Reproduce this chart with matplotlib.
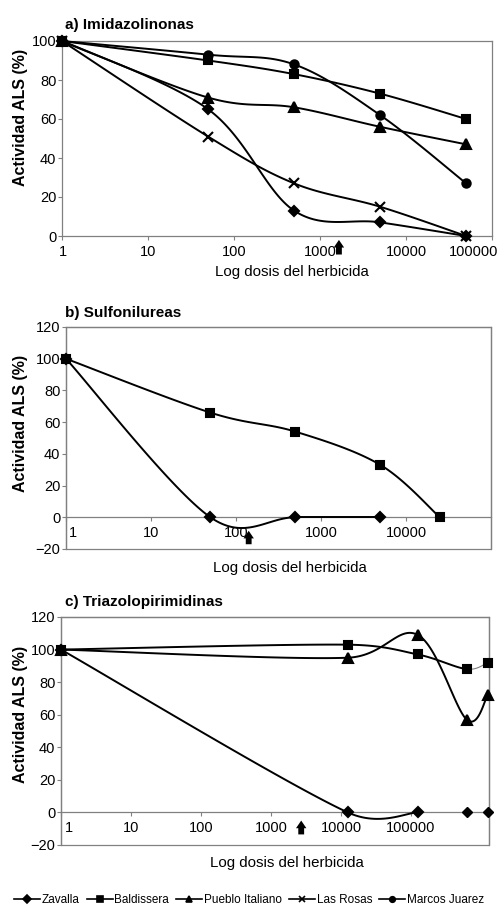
import matplotlib
matplotlib.use('Agg')
import matplotlib.pyplot as plt
import numpy as np
from matplotlib.lines import Line2D
from matplotlib.patches import Rectangle
from matplotlib.ticker import FixedLocator, NullFormatter, NullLocator

plt.rcParams['font.family'] = ['Liberation Sans', 'DejaVu Sans']

# a) Imidazolinonas
dosis_a = [1, 50, 500, 5000, 50000]
zavalla_a = [100, 65, 13, 7, 0]
baldissera_a = [100, 90, 83, 73, 60]
pueblo_a = [100, 71, 66, 56, 47]
rosas_a = [100, 51, 27, 15, 0]
marcos_a = [100, 93, 88, 62, 27]

# b) Sulfonilureas
dosis_b = [1, 50, 500, 5000, 25000]
zavalla_b = [100, 0, 0, 0]
baldissera_b = [100, 66, 54, 33, 0]

# c) Triazolopirimidinas
dosis_c = [1, 12500, 125000, 625000, 1250000]
zavalla_c = [100, 0, 0, 0, 0]
baldissera_c = [100, 103, 97, 88, 92]
pueblo_c = [100, 95, 109, 57, 72]

# dosis marcadas con flecha
flecha_a = 1660
flecha_b = 141
flecha_c = 2700

ticks_a = [1, 10, 100, 1000, 10000, 100000]
ticks_b = [1, 10, 100, 1000, 10000]
ticks_c = [1, 10, 100, 1000, 10000, 100000]

series = ['Zavalla', 'Baldissera', 'Pueblo Italiano', 'Las Rosas', 'Marcos Juarez']
marcas = {'Zavalla': ('D', 5.5), 'Baldissera': ('s', 5.5), 'Pueblo Italiano': ('^', 7),
          'Las Rosas': ('x', 6.5), 'Marcos Juarez': ('o', 6)}

GRIS = '#808080'
W, H = 498, 905
fig = plt.figure(figsize=(W / 100, H / 100), dpi=100)


def caja(l, t, r, b):
    return [l / W, 1 - b / H, (r - l) / W, (b - t) / H]


def suave(ax, xs, ys, n=50):
    # curva suavizada tipo Excel (Bezier), calculada en pixeles
    P = ax.transData.transform(np.column_stack([xs, ys]))
    m = len(P)
    segs = []
    for i in range(m - 1):
        p0, p1, p2, p3 = P[max(i - 1, 0)], P[i], P[i + 1], P[min(i + 2, m - 1)]
        d02 = np.hypot(*(p2 - p0))
        d12 = np.hypot(*(p2 - p1))
        d13 = np.hypot(*(p3 - p1))
        b1 = d02 / 6 < d12 / 2
        b2 = d13 / 6 < d12 / 2
        if b1 and b2:
            f = g = 1 / 6
        elif not b1 and not b2:
            f = g = d12 / (d02 + d13)
        else:
            f = 1 / 6 if b1 else d12 / (2 * d02)
            g = 1 / 6 if b2 else d12 / (2 * d13)
        c1 = p1 + f * (p2 - p0)
        c2 = p2 - g * (p3 - p1)
        t = np.linspace(0, 1, n)[:, None]
        bz = (1 - t) ** 3 * p1 + 3 * (1 - t) ** 2 * t * c1 + 3 * (1 - t) * t ** 2 * c2 + t ** 3 * p2
        segs.append(ax.transData.inverted().transform(bz))
    return segs


def serie(ax, xs, ys, nombre, finos=()):
    mk, ms = marcas[nombre]
    for k, seg in enumerate(suave(ax, xs, ys)):
        if k in finos:
            ax.plot(seg[:, 0], seg[:, 1], color=GRIS, lw=0.8, clip_on=False, zorder=3)
        else:
            ax.plot(seg[:, 0], seg[:, 1], color='black', lw=1.4, clip_on=False, zorder=3)
    ax.plot(xs, ys, ls='none', marker=mk, ms=ms, color='black', mew=1.5,
            clip_on=False, zorder=4)


def marcadores(ax, xs, ys, nombre):
    mk, ms = marcas[nombre]
    ax.plot(xs, ys, ls='none', marker=mk, ms=ms, color='black', clip_on=False, zorder=4)


def ejes(pos, xmax, ymin, ymax, xticks, cruza_cero, desplaz):
    ax = fig.add_axes(caja(*pos))
    ax.set_xscale('log')
    ax.set_xlim(1, xmax)
    ax.set_ylim(ymin, ymax)
    ax.xaxis.set_major_locator(FixedLocator(xticks))
    ax.xaxis.set_major_formatter(NullFormatter())
    ax.xaxis.set_minor_locator(NullLocator())
    ax.xaxis.set_minor_formatter(NullFormatter())
    ax.set_yticks(np.arange(ymin, ymax + 1, 20))
    ax.tick_params(axis='y', direction='out', length=3, width=0.8, color=GRIS,
                   labelsize=10.5, pad=1)
    ax.tick_params(axis='x', direction='out', length=3, width=0.8, color=GRIS)
    for s in ax.spines.values():
        s.set_color(GRIS)
        s.set_linewidth(0.9)
    if cruza_cero:
        ax.spines['bottom'].set_position(('data', 0))
        ax.add_patch(Rectangle((0, 0), 1, 1, transform=ax.transAxes, fill=False,
                               edgecolor=GRIS, lw=0.9, clip_on=False, zorder=1))
        ref = ax.transData
    else:
        ref = ax.get_xaxis_transform()
    # etiquetas del eje x (Excel las corre un poco en los extremos)
    for v in xticks:
        dx, ha = desplaz.get(v, (0, 'center'))
        ax.annotate(str(v), xy=(v, 0), xycoords=ref, xytext=(dx, -6.5),
                    textcoords='offset points', ha=ha, va='top', fontsize=10.5,
                    annotation_clip=False)
    return ax


def flecha(ax, x, y0, y1):
    ax.annotate('', xy=(x, y1), xytext=(x, y0), annotation_clip=False,
                arrowprops=dict(arrowstyle='simple,head_width=0.75,head_length=0.55,tail_width=0.42',
                                mutation_scale=10, color='black', lw=0, shrinkA=0, shrinkB=0),
                zorder=5)


# ---- a)
ax = ejes((62, 41, 492, 236), 100000, 0, 100, ticks_a, False,
          {1: (1, 'center'), 100000: (4.5, 'right')})
serie(ax, dosis_a, baldissera_a, 'Baldissera')
serie(ax, dosis_a, pueblo_a, 'Pueblo Italiano')
serie(ax, dosis_a, rosas_a, 'Las Rosas')
serie(ax, dosis_a, marcos_a, 'Marcos Juarez')
serie(ax, dosis_a, zavalla_a, 'Zavalla')
flecha(ax, flecha_a, -9.5, -2.0)

# ---- b)
ax = ejes((66, 327, 491, 549), 100000, -20, 120, ticks_b, True, {1: (2, 'left')})
serie(ax, dosis_b, baldissera_b, 'Baldissera')
serie(ax, dosis_b[:len(zavalla_b)], zavalla_b, 'Zavalla')
flecha(ax, flecha_b, -17.0, -8.5)

# ---- c)
ax = ejes((61, 617, 489, 845), 1.3e6, -20, 120, ticks_c, True, {1: (2.5, 'left')})
serie(ax, dosis_c, baldissera_c, 'Baldissera', finos=(3,))
serie(ax, dosis_c, pueblo_c, 'Pueblo Italiano')
serie(ax, dosis_c[:3], zavalla_c[:3], 'Zavalla')
marcadores(ax, dosis_c[3:], zavalla_c[3:], 'Zavalla')
flecha(ax, flecha_c, -13.5, -5.0)

# textos
titulos = ['a) Imidazolinonas', 'b) Sulfonilureas', 'c) Triazolopirimidinas']
for txt, y in zip(titulos, [25, 313, 602]):
    fig.text(65 / W, 1 - y / H, txt, fontsize=11, fontweight='bold', ha='left', va='center')
for y in [117, 423, 714]:
    fig.text(20 / W, 1 - y / H, 'Actividad ALS (%)', fontsize=11.5, fontweight='bold',
             rotation=90, ha='center', va='center')
for x, y in [(292, 272), (290, 568), (287, 863)]:
    fig.text(x / W, 1 - y / H, 'Log dosis del herbicida', fontsize=10.8, ha='center', va='center')

handles = [Line2D([], [], color='black', lw=1.2, marker=marcas[s][0], ms=4, mew=1.2)
           for s in series]
fig.legend(handles, series, loc='center', bbox_to_anchor=(249 / W, 1 - 900 / H), ncol=5,
           frameon=False, handlelength=2.2, handletextpad=0.15, columnspacing=0.6,
           borderpad=0, prop={'size': 8.5})

fig.savefig('out.png', dpi=100)
